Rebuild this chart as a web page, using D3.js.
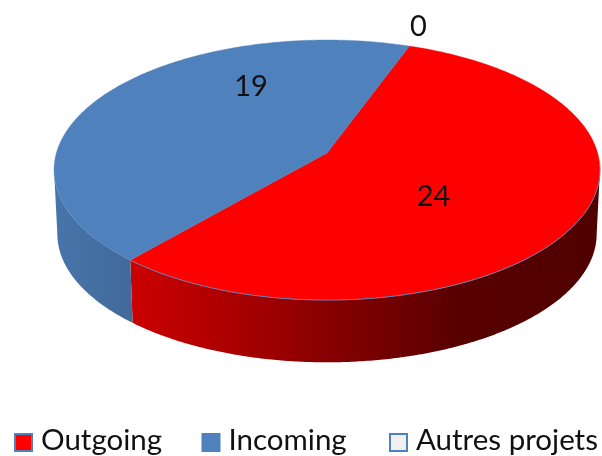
<!DOCTYPE html>
<html><head><meta charset="utf-8">
<script src="https://cdn.jsdelivr.net/npm/d3@7"></script>
<style>html,body{margin:0;padding:0;background:#fff}svg{display:block;filter:blur(.45px)}text{font-family:Lato,"Noto Sans",sans-serif;fill:#111}</style>
</head><body><svg id="c" width="602" height="456"></svg>
<script>
const categories = ["Outgoing","Incoming","Autres projets"];
const seriesValues = [24,19,0];
const sliceColors = ["#ff0000","#4f81bd","#f0f0f0"];
const legendStroke = ["#4f81bd","#4f81bd","#4f81bd"];
const labelNudge = [[-14,12],[37,-33],[9,-17]];

const svg = d3.select("#c");
const rad = Math.PI/180;
const slices = d3.pie().sort(null).startAngle(20*rad).endAngle(380*rad)(seriesValues);
const k = 0.131;
function project(a,r,f,y0){
  const u = Math.sin(a)*r, v = -Math.cos(a)*r, w = 1-k*v;
  return [327+270.6*f*u/w, y0+127.8*f*v/w];
}
const topPt = (a,r=1)=>project(a,r,1,153);
const botPt = (a,r=1)=>project(a,r,0.988,217);
const samples = (a0,a1)=>{const n=Math.max(2,Math.ceil((a1-a0)/(rad/2)));return d3.range(n+1).map(i=>a0+(a1-a0)*i/n);};
const line = d3.line();
const frontStart = 97.5*rad, frontEnd = 262.5*rad;

const defs = svg.append("defs");
const grad = (id,stops)=>{
  const g = defs.append("linearGradient").attr("id",id).attr("gradientUnits","userSpaceOnUse")
    .attr("x1",0).attr("x2",602).attr("y1",0).attr("y2",0);
  stops.forEach(([o,c])=>g.append("stop").attr("offset",o).attr("stop-color",c));
};
grad("g0",[[130/602,"#cc0000"],[240/602,"#a80000"],[460/602,"#580000"],[1,"#500000"]]);
grad("g1",[[50/602,"#4776ab"],[135/602,"#41699a"]]);

// sides: only the front half of each slice, closed straight at the silhouette
slices.forEach((s,i)=>{
  if(s.value===0) return;
  const a0=Math.max(s.startAngle,frontStart), a1=Math.min(s.endAngle,frontEnd);
  if(a1<=a0) return;
  const as = samples(a0,a1);
  svg.append("path")
    .attr("d",line(as.map(a=>topPt(a)).concat(as.slice().reverse().map(a=>botPt(a))))+"Z")
    .attr("fill",`url(#g${i})`);
});
// top faces
slices.forEach((s,i)=>{
  if(s.value===0) return;
  const as = samples(s.startAngle,s.endAngle);
  svg.append("path").attr("d",line([topPt(0,0)].concat(as.map(a=>topPt(a))))+"Z")
    .attr("fill",sliceColors[i]).attr("stroke",sliceColors[i]).attr("stroke-width",.4);
});
// rim line along the front edge
svg.append("path").attr("d",line(samples(95*rad,slices[0].endAngle).map(a=>topPt(a))))
  .attr("fill","none").attr("stroke","#5f82b8").attr("stroke-width",1);
// labels
slices.forEach((s,i)=>{
  const mid=(s.startAngle+s.endAngle)/2, p=topPt(mid,s.value?0.5:1);
  svg.append("text").attr("x",p[0]+labelNudge[i][0]).attr("y",p[1]+labelNudge[i][1])
    .attr("text-anchor","middle").attr("dominant-baseline","middle")
    .attr("font-size",29).text(s.value);
});
// legend
const lx = d3.scalePoint().domain(categories).range([14,389]);
const lg = svg.selectAll(".l").data(categories).join("g").attr("class","l")
  .attr("transform",d=>`translate(${lx(d)},433)`);
lg.append("rect").attr("x",1).attr("y",1).attr("width",17).attr("height",17)
  .attr("fill",(d,i)=>sliceColors[i]).attr("stroke",(d,i)=>legendStroke[i]).attr("stroke-width",2);
lg.append("text").attr("x",27).attr("y",17).attr("font-size",29.5).text(d=>d);
</script></body></html>
